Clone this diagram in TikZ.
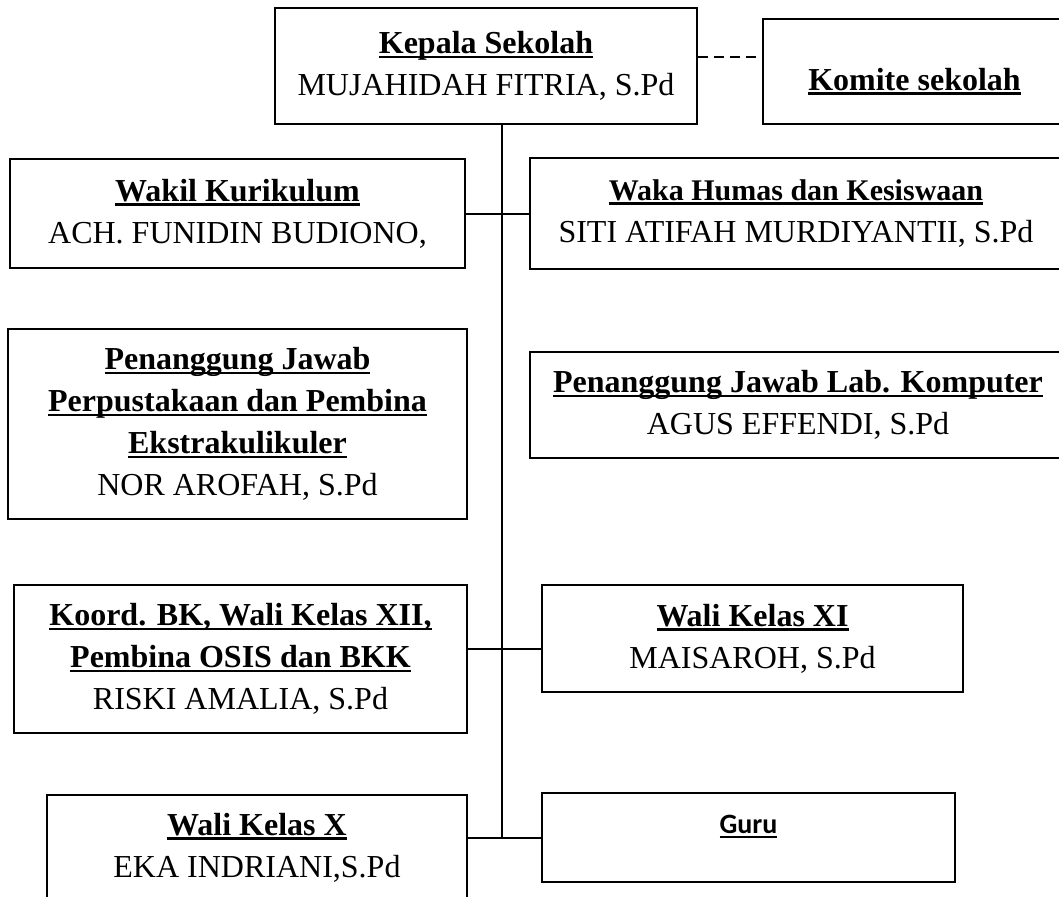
\documentclass[tikz,border=0pt]{standalone}
\usepackage{fontspec}
\setmainfont{Liberation Serif}
\newfontfamily\gurufont{Carlito}
\newcommand\judul[1]{\setbox0\hbox{\bfseries #1}\rlap{\copy0}\rule[-4.5pt]{\wd0}{2.5pt}}
\begin{document}
\begin{tikzpicture}[x=1pt,y=-1pt,
    kotak/.style={draw,line width=1.8pt,align=center,inner sep=0pt,
      font=\fontsize{32}{42}\selectfont},
    garis/.style={line width=2pt}]
  \useasboundingbox (0,0) rectangle (1059,896);
  \draw
    (486,66) node[kotak,minimum width=422pt,minimum height=116pt] (kepsek)
      {\judul{Kepala Sekolah}\\MUJAHIDAH FITRIA, S.Pd}
    (914.5,71.5) node[kotak,minimum width=303pt,minimum height=105pt,text height=42pt] (komite)
      {\judul{Komite sekolah}}
    (237.5,213.5) node[kotak,minimum width=455pt,minimum height=109pt] (wakur)
      {\judul{Wakil Kurikulum}\\ACH. FUNIDIN BUDIONO,}
    (796,213.5) node[kotak,minimum width=532pt,minimum height=111pt] (humas)
      {\judul{\fontsize{30}{30}\selectfont Waka Humas dan Kesiswaan}\\SITI ATIFAH MURDIYANTII, S.Pd}
    (237.5,424) node[kotak,minimum width=459pt,minimum height=190pt] (perpus)
      {\judul{Penanggung Jawab}\\\judul{Perpustakaan dan Pembina}\\\judul{Ekstrakulikuler}\\NOR AROFAH, S.Pd}
    (798,405) node[kotak,minimum width=536pt,minimum height=106pt] (labkom)
      {\judul{Penanggung Jawab Lab. Komputer}\\AGUS EFFENDI, S.Pd}
    (240.5,659) node[kotak,minimum width=453pt,minimum height=148pt] (bk)
      {\judul{Koord. BK, Wali Kelas XII,}\\\judul{Pembina OSIS dan BKK}\\RISKI AMALIA, S.Pd}
    (752.5,638.5) node[kotak,minimum width=421pt,minimum height=107pt] (walxi)
      {\judul{Wali Kelas XI}\\MAISAROH, S.Pd}
    (257,847.5) node[kotak,minimum width=420pt,minimum height=105pt] (walx)
      {\judul{Wali Kelas X}\\EKA INDRIANI,S.Pd}
    (748.5,837.5) node[kotak,minimum width=413pt,minimum height=89pt,text depth=26pt] (guru)
      {\judul{\gurufont\fontsize{28}{32}\selectfont Guru}};
  % titik cabang pada batang
  \coordinate (cab1) at (502,649);
  \coordinate (cab2) at (502,838);
  \begin{scope}[garis]
    \draw (kepsek.south -| cab2) -- (cab2);
    \draw (wakur.east) -- (humas.west);
    \draw (cab1 -| bk.east) -- (cab1 -| walxi.west);
    \draw (cab2 -| walx.east) -- (cab2 -| guru.west);
    \draw[dash pattern=on 10pt off 6pt] (kepsek.east |- 0,57) -- (komite.west |- 0,57);
  \end{scope}
\end{tikzpicture}
\end{document}
